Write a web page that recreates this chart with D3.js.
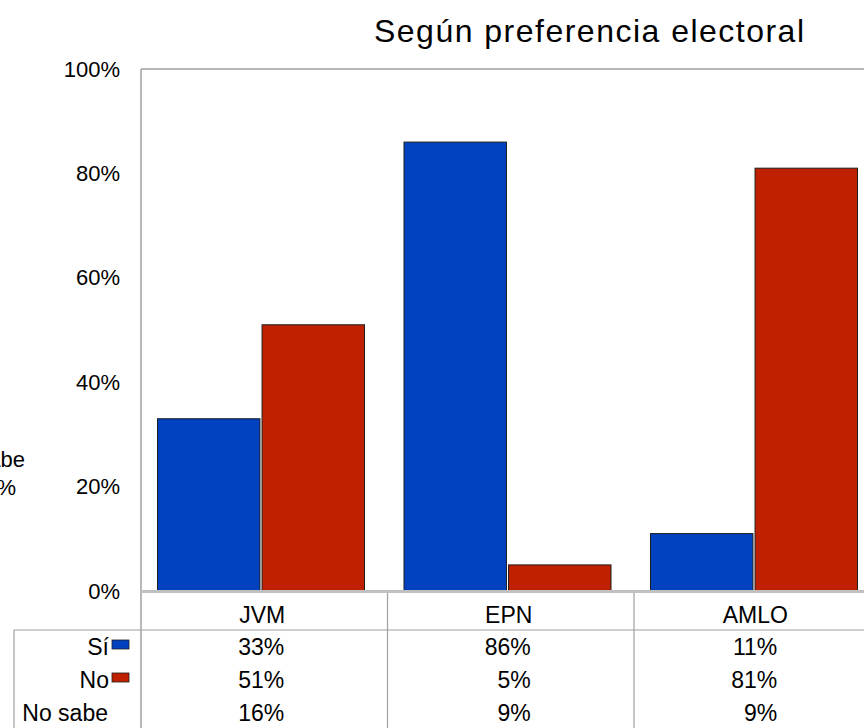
<!DOCTYPE html>
<html>
<head>
<meta charset="utf-8">
<script src="https://cdn.jsdelivr.net/npm/d3@7"></script>
<style>
  html, body { margin: 0; padding: 0; background: #fff; }
  svg { display: block; }
  text { font-family: "Liberation Sans", Arial, sans-serif; fill: #000; }
</style>
</head>
<body>
<svg id="chart" width="864" height="728"></svg>
<script>
// Categories and series
const categories = ["JVM", "EPN", "AMLO"];
const seriesNames = ["Sí", "No"];
const siValues = [33, 86, 11];
const noValues = [51, 5, 81];
const noSabeValues = [16, 9, 9];
const yTicks = [0, 20, 40, 60, 80, 100];
const titleText = "Según preferencia electoral";
const sideLabels = ["No sabe", "13%"];

const colors = { "Sí": "#0041c0", "No": "#bf2100" };

const svg = d3.select("#chart");

const plot = { left: 141, top: 69, bottom: 591, right: 880.5 };

const x = d3.scaleBand().domain(categories).range([plot.left, plot.right]).padding(0);
const xInner = d3.scaleBand().domain(seriesNames).range([16.5, 223.5]).paddingInner(0.02);
const y = d3.scaleLinear().domain([0, 100]).range([plot.bottom, plot.top]);

const valuesBySeries = { "Sí": siValues, "No": noValues };

// Title
svg.append("text")
  .attr("x", 589)
  .attr("y", 42)
  .attr("text-anchor", "middle")
  .attr("font-size", 32)
  .attr("textLength", 430)
  .attr("lengthAdjust", "spacing")
  .text(titleText);

// Partially visible labels at the left edge
svg.append("text").attr("x", 25).attr("y", 467).attr("text-anchor", "end")
  .attr("font-size", 22).text(sideLabels[0]);
svg.append("text").attr("x", 16).attr("y", 495).attr("text-anchor", "end")
  .attr("font-size", 22).text(sideLabels[1]);

// Plot frame: top and left edges
svg.append("line")
  .attr("x1", plot.left).attr("x2", 864)
  .attr("y1", plot.top).attr("y2", plot.top)
  .attr("stroke", "#a0a0a0").attr("stroke-width", 1.5);
svg.append("line")
  .attr("x1", plot.left).attr("x2", plot.left)
  .attr("y1", plot.top).attr("y2", 728)
  .attr("stroke", "#a0a0a0").attr("stroke-width", 1.5);

// Y axis labels
const yAxis = d3.axisLeft(y)
  .tickValues(yTicks)
  .tickFormat(d => d + "%")
  .tickSize(0)
  .tickPadding(21);
const yg = svg.append("g").attr("transform", `translate(${plot.left},0)`).call(yAxis);
yg.select(".domain").remove();
yg.selectAll("text")
  .attr("font-size", 22)
  .attr("font-family", "Liberation Sans, Arial, sans-serif")
  .attr("fill", "#000");

// Bars
const barData = [];
categories.forEach((c, i) => {
  seriesNames.forEach(s => barData.push({ cat: c, series: s, value: valuesBySeries[s][i] }));
});

svg.append("g").selectAll("rect")
  .data(barData)
  .join("rect")
  .attr("x", d => x(d.cat) + xInner(d.series))
  .attr("y", d => y(d.value))
  .attr("width", xInner.bandwidth())
  .attr("height", d => y(0) - y(d.value))
  .attr("fill", d => colors[d.series])
  .attr("stroke", "#1e1e1e")
  .attr("stroke-width", 1);

// Category axis line
svg.append("line")
  .attr("x1", plot.left).attr("x2", 864)
  .attr("y1", y(0) + 0.5).attr("y2", y(0) + 0.5)
  .attr("stroke", "#c0c0c0").attr("stroke-width", 3);

// Data table grid
const rowTop = 630;
const rowH = 33;
const tableLeft = 14;
const grid = svg.append("g").attr("stroke", "#a0a0a0").attr("stroke-width", 1.2);
grid.append("line").attr("x1", tableLeft).attr("x2", 864).attr("y1", rowTop).attr("y2", rowTop);
grid.append("line").attr("x1", tableLeft).attr("x2", tableLeft).attr("y1", rowTop).attr("y2", 728);
categories.slice(1).forEach(c => {
  grid.append("line").attr("x1", x(c)).attr("x2", x(c)).attr("y1", y(0) + 2).attr("y2", 728);
});

// Category labels
svg.append("g").selectAll("text")
  .data(categories)
  .join("text")
  .attr("x", d => x(d) + x.bandwidth() / 2 - 2)
  .attr("y", 615)
  .attr("dy", "0.35em")
  .attr("text-anchor", "middle")
  .attr("font-size", 23)
  .text(d => d);

// Table rows
const rows = [
  { label: "Sí", values: siValues, swatch: colors["Sí"] },
  { label: "No", values: noValues, swatch: colors["No"] },
  { label: "No sabe", values: noSabeValues, swatch: null }
];

rows.forEach((r, ri) => {
  const cy = rowTop + rowH * ri + 17;
  const labelRight = r.swatch ? 109 : 108;
  svg.append("text")
    .attr("x", labelRight)
    .attr("y", cy)
    .attr("dy", "0.35em")
    .attr("text-anchor", "end")
    .attr("font-size", 23)
    .text(r.label);
  if (r.swatch) {
    svg.append("rect")
      .attr("x", 112).attr("y", cy - 7)
      .attr("width", 17).attr("height", 9)
      .attr("fill", r.swatch)
      .attr("stroke", "#1e1e1e").attr("stroke-width", 0.8);
  }
  svg.append("g").selectAll("text")
    .data(categories)
    .join("text")
    .attr("x", d => x(d) + x.bandwidth() / 2 + 20)
    .attr("y", cy)
    .attr("dy", "0.35em")
    .attr("text-anchor", "end")
    .attr("font-size", 23)
    .text((d, i) => r.values[i] + "%");
});
</script>
</body>
</html>
